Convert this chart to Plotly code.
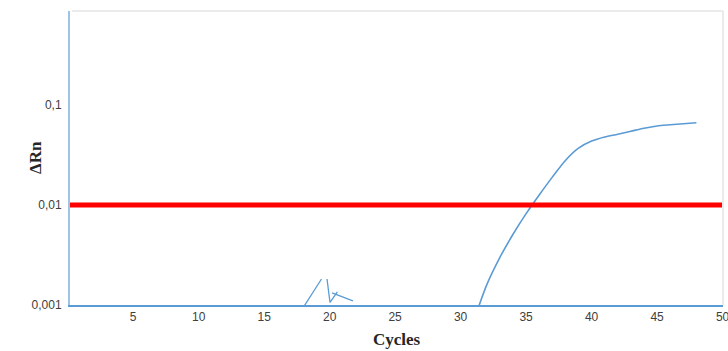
import plotly.graph_objects as go

# Main amplification curve (cycle, ΔRn)
cycles = [31, 32, 33, 34, 35, 36, 37, 38, 39, 40, 41, 42, 43, 44, 45, 46, 47, 48]
delta_rn = [0.00069, 0.0016, 0.0030, 0.0051, 0.0082, 0.0126, 0.0190, 0.0279, 0.0370,
            0.0436, 0.0479, 0.0510, 0.0547, 0.0586, 0.0617, 0.0634, 0.0650, 0.0665]

# Small noise artefact around cycle 20 (gaps as None)
noise_x = [18.0, 19.38, None, 19.80, 20.03, 20.59, None, 20.18, 21.78]
noise_y = [0.00095, 0.00182, None, 0.00182, 0.00106, 0.00135, None, 0.00132, 0.00110]

threshold = 0.01

x_ticks = [5, 10, 15, 20, 25, 30, 35, 40, 45, 50]
y_ticks = [0.001, 0.01, 0.1]
y_tick_text = ["0,001", "0,01", "0,1"]

blue = "#5B9BD5"

fig = go.Figure()
fig.add_trace(go.Scatter(x=cycles, y=delta_rn, mode="lines",
                         line=dict(color=blue, width=1.6, shape="spline", smoothing=0.8),
                         showlegend=False))
fig.add_trace(go.Scatter(x=noise_x, y=noise_y, mode="lines", connectgaps=False,
                         line=dict(color=blue, width=1.3), showlegend=False))

# threshold line
fig.add_shape(type="line", xref="paper", x0=0, x1=1, yref="y", y0=threshold, y1=threshold,
              line=dict(color="#FF0000", width=5))
# light frame top / right
fig.add_shape(type="line", xref="paper", yref="paper", x0=0.003, x1=1, y0=1, y1=1,
              line=dict(color="#EBEBEB", width=2))
fig.add_shape(type="line", xref="paper", yref="paper", x0=1, x1=1, y0=0, y1=1,
              line=dict(color="#EBEBEB", width=2))

# y-axis title placed as annotation (overlaps the tick-label column like the original)
fig.add_annotation(text="<b>ΔRn</b>", xref="paper", yref="paper", x=0, y=0.5,
                   xanchor="center", yanchor="middle", xshift=-35, textangle=-90,
                   showarrow=False,
                   font=dict(family="Liberation Serif, Times New Roman, serif",
                             size=17, color="#262626"))

fig.update_layout(
    width=728, height=351,
    margin=dict(l=70, r=5, t=11, b=46),
    paper_bgcolor="white", plot_bgcolor="white",
    font=dict(family="Liberation Sans, Arial, sans-serif", size=12, color="#404040"),
    xaxis=dict(range=[0.18, 50.03], tickvals=x_ticks, showgrid=False, zeroline=False,
               showline=True, linecolor=blue, linewidth=1.5, ticks="",
               ticklabeloverflow="allow", automargin=False,
               tickfont=dict(size=12, color="#404040"),
               title=dict(text="<b>Cycles</b>", standoff=10,
                          font=dict(family="Liberation Serif, Times New Roman, serif",
                                    size=17, color="#262626"))),
    yaxis=dict(type="log", range=[-3, -0.06], tickvals=y_ticks, ticktext=y_tick_text,
               showgrid=False, zeroline=False, showline=True, linecolor="#9DC3E6",
               linewidth=2, ticks="outside", ticklen=4, tickcolor="rgba(0,0,0,0)",
               automargin=False,
               tickfont=dict(size=12, color="#404040")),
)

fig.write_html("out.html")
